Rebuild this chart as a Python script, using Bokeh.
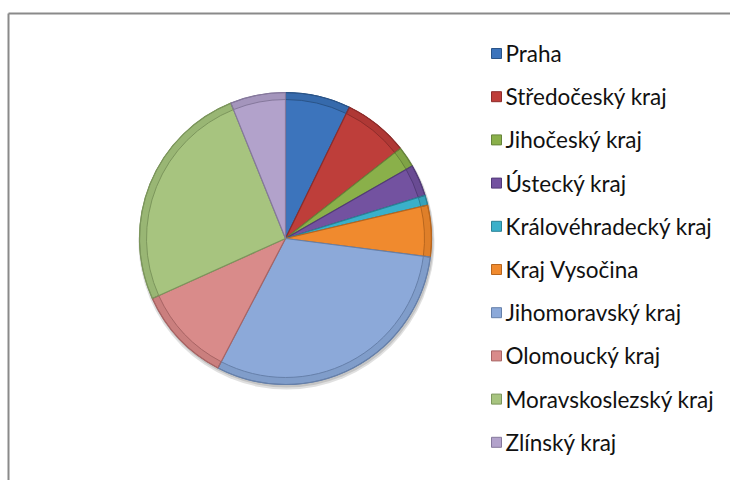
import math
from bokeh.plotting import figure
from bokeh.models import Range1d, ColumnDataSource
from bokeh.core.properties import value
from bokeh.embed import file_html
from bokeh.resources import INLINE

regions = ["Praha", "Středočeský kraj", "Jihočeský kraj", "Ústecký kraj",
           "Královéhradecký kraj", "Kraj Vysočina", "Jihomoravský kraj",
           "Olomoucký kraj", "Moravskoslezský kraj", "Zlínský kraj"]
shares = [7.2, 7.2, 2.3, 3.5, 1.1, 5.7, 30.6, 10.6, 25.6, 6.1]
colors = ["#3C74BC", "#BE3E3A", "#8AB04A", "#7352A0", "#3AB0CA",
          "#F08A2E", "#8CA9D9", "#D98B8A", "#A7C47F", "#B2A2CB"]
edge_colors = ["#2A5488", "#8E2C2A", "#66843A", "#523A78", "#2A8296",
               "#B8661E", "#6680AA", "#A86464", "#7C965C", "#85789C"]

W, H = 730, 480
cx, cy, R = 285, H - 238, 146

total = sum(shares)
starts, ends = [], []
acc = 0.0
for s in shares:
    starts.append(math.pi / 2 - 2 * math.pi * acc / total)
    acc += s
    ends.append(math.pi / 2 - 2 * math.pi * acc / total)

src = ColumnDataSource(dict(name=regions, share=shares, color=colors,
                            edge=edge_colors, start=starts, end=ends))

p = figure(width=W, height=H, output_backend="svg", toolbar_location=None,
           x_range=Range1d(0, W), y_range=Range1d(0, H),
           min_border=0, outline_line_color=None)
p.axis.visible = False
p.grid.visible = False
p.background_fill_color = "white"
p.border_fill_color = "white"

# chart-area border (continues past the right and bottom edges)
p.segment(x0=[8, 8], y0=[H - 13, H - 13], x1=[8, W + 20], y1=[-20, H - 13],
          line_color="#8a8a8a", line_width=2)

# soft shadow
p.circle(x=[cx + 1], y=[cy - 3], radius=R + 2, radius_units="screen",
         fill_color="#000000", fill_alpha=0.12, line_color=None)
p.circle(x=[cx + 1], y=[cy - 2], radius=R + 1, radius_units="screen",
         fill_color="#000000", fill_alpha=0.12, line_color=None)

p.wedge(x=cx, y=cy, radius=R, radius_units="screen", start_angle="start",
        end_angle="end", direction="clock", fill_color="color",
        line_color="edge", line_width=1.2, source=src)
# bevel-like rim
p.annular_wedge(x=cx, y=cy, inner_radius=R - 7, outer_radius=R,
                inner_radius_units="screen", outer_radius_units="screen",
                start_angle="start", end_angle="end", direction="clock",
                fill_color="edge", fill_alpha=0.3, line_color="edge",
                line_width=1, source=src)

# legend
row0, pitch = 53, 43.2
ly = [H - (row0 + pitch * i) for i in range(len(regions))]
lsrc = ColumnDataSource(dict(y=ly, name=regions, color=colors, edge=edge_colors,
                             mx=[496] * len(regions), tx=[505] * len(regions)))
p.scatter(x="mx", y="y", marker="square", size=10, fill_color="color",
          line_color="edge", line_width=1, source=lsrc)
p.text(x="tx", y="y", text="name", text_baseline="middle", text_align="left",
       text_font=value("Lato"), text_font_size="22.5px", text_color="#111111",
       source=lsrc)

open("out.html", "w").write(file_html(p, INLINE))
